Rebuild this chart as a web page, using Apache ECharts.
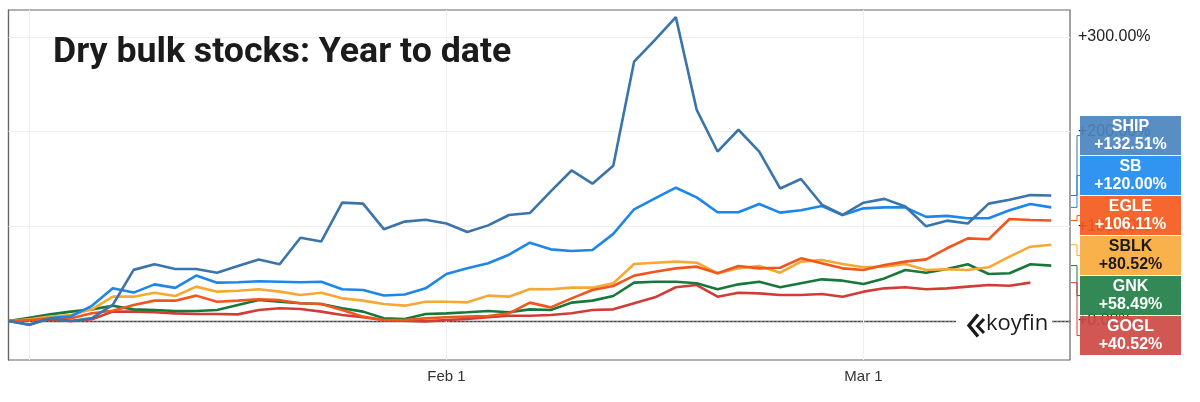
<!DOCTYPE html>
<html><head><meta charset="utf-8">
<script src="https://cdn.jsdelivr.net/npm/echarts@6/dist/echarts.min.js"></script>
<style>html,body{margin:0;padding:0;background:#fff}#c{width:1200px;height:402px}</style>
</head><body><div id="c"></div>
<script>
// trading-day index 0..50 (Dec 31 .. Mar 12)
const tickIdx = [1, 21, 41];
const tickLabels = ['', 'Feb 1', 'Mar 1'];
const yTicks = [0, 100, 200, 300];

const names = ['SHIP', 'SB', 'EGLE', 'SBLK', 'GNK', 'GOGL'];
const ship = [0,-4,3,0,3,17,54,60,55,55,51,58,65,60,88,84,125,124,97,105,107,103,94,101,112,114,137,159,145,164,274,297,321,223,179,202,179,140,150,123,112,125,129,121,100,106,103,124,128,133,132.51];
const sb   = [0,-4,3,5,16,34.5,30,38.7,35,48,40.5,41,42,41.5,41,41.5,33.5,32.7,27,28,34.5,49.6,55.6,61,70,82.7,75.7,74,75,92,118,129.6,140.8,130.6,114.8,114.8,123.6,114.5,117,121.5,112,119,120,120,110,111,108.5,108.5,117,123.6,120];
const egle = [0,1,2.8,2.8,8.1,10.9,16.9,21.5,21.5,26.8,20.4,21.5,22.9,22,18.7,18,11.6,4.6,1,1,2.8,3.9,4.6,5.3,8.1,19.4,14.4,23.9,32.7,37,47.9,52.1,55.6,57.4,50.4,58.1,55.6,56.2,66.2,60.9,55.6,53.9,59.2,62.7,65.1,76.8,87.3,86.3,107.7,106.7,106.11];
const sblk = [0,1.8,4.6,6.3,12.3,25.7,25.7,29.9,26.4,36.3,31,32,33.5,31,27.5,29.9,23.9,21.5,18,16.2,20.4,20.4,19.7,26.8,25.7,33.8,33.5,35.2,35.2,39.8,60.2,61.6,62.7,61.6,50.4,55.6,58.1,51,62.7,64.4,60.2,56.7,57.4,60.2,53.9,54.6,53.9,56.7,68,78.5,80.52];
const gnk  = [0,3.5,7,9.9,12.3,16.2,12.3,11.6,10.6,10.6,11.6,16.9,22.2,20.4,18.7,18,13.4,9.9,2.8,2.1,7.4,8.1,9.2,10.6,9.2,12.3,11.6,19.4,21.5,26.4,40.5,41.5,41.5,39.8,33.5,38.7,41.5,35.6,39.8,44,42.6,39.1,45,53.9,51,54.9,59.9,49.6,50.4,59.9,58.49];
const gogl = [0,1,1,0,1.8,9.9,9.9,9.2,8.1,7.4,7.4,7,11.6,13.4,12.7,9.9,6.3,3.9,1,0.4,-0.4,1,2.1,3.9,5.6,5.6,6.3,8.1,11.6,12.3,18.7,25,35.6,38,25.7,29.9,29.2,27.5,27.5,28.5,25.7,31,34.5,35.6,33.5,34.5,36.3,38,37.3,40.52,null];

const values = [ship, sb, egle, sblk, gnk, gogl];
const lineColors = ['#3a74ab', '#1c86ea', '#f0561d', '#f7a832', '#17783a', '#d23c36'];
const boxColors  = ['#4a84bf', '#1f8bf0', '#f55a1e', '#f8aa3c', '#217f48', '#cd4a43'];
const boxText    = ['#fff', '#fff', '#fff', '#1a1a1a', '#fff', '#fff'];

const chart = echarts.init(document.getElementById('c'));
const fmtPct = v => '+' + v.toFixed(2) + '%';

const lineSeries = values.map((arr, k) => ({
  name: names[k], type: 'line', symbol: 'none', z: 10 - k,
  lineStyle: { color: lineColors[k], width: 2.6 },
  data: arr.map((v, i) => [i, v])
})).reverse();

const helper = {
  type: 'line', z: 1, symbol: 'none', silent: true, data: [[0, 0]],
  lineStyle: { opacity: 0 },
  markLine: {
    silent: true, symbol: 'none', label: { show: false }, animation: false,
    data: [
      ...yTicks.filter(v => v > 0).map(v => ({ yAxis: v, lineStyle: { color: '#efefef', width: 1, type: 'solid' } })),
      ...tickIdx.map(i => ({ xAxis: i, lineStyle: { color: '#efefef', width: 1, type: 'solid' } })),
      { yAxis: 0, lineStyle: { color: '#aaa', width: 1.2, type: [1.2, 2.8] } }
    ]
  }
};

chart.setOption({
  animation: false,
  title: {
    text: 'Dry bulk stocks: Year to date', left: 48, top: 30,
    textStyle: { fontFamily: 'Roboto', fontWeight: 'bold', fontSize: 35.7, color: '#1b1b1b' }
  },
  grid: { left: 8.5, right: 130, top: 10, bottom: 42, show: true, borderColor: '#666', borderWidth: 1.2, backgroundColor: 'transparent' },
  xAxis: {
    type: 'value', min: 0, max: 50.9,
    axisLine: { show: true, lineStyle: { color: '#444', width: 1.4 } },
    axisTick: { show: true, customValues: tickIdx, length: 4, lineStyle: { color: '#444' } },
    axisLabel: { customValues: tickIdx, formatter: v => tickLabels[tickIdx.indexOf(v)] || '', fontSize: 15, color: '#333', fontFamily: 'Liberation Sans', margin: 9 },
    splitLine: { show: false }
  },
  yAxis: {
    type: 'value', position: 'right', min: -41.2, max: 328.5,
    axisLine: { show: true, lineStyle: { color: '#666', width: 1.2 } },
    axisTick: { show: true, customValues: yTicks, length: 3, lineStyle: { color: '#333' } },
    axisLabel: { customValues: yTicks, formatter: v => fmtPct(v), fontSize: 16, color: '#222', fontFamily: 'Liberation Sans', margin: 8 },
    splitLine: { show: false }
  },
  series: [helper, ...lineSeries]
});

// end-label boxes stacked around the mean of line end positions
const ends = values.map((arr, k) => {
  let i = arr.length - 1; while (arr[i] == null) i--;
  const p = chart.convertToPixel({ gridIndex: 0 }, [i, arr[i]]);
  return { k, v: arr[i], y: p[1] };
}).sort((a, b) => a.y - b.y);
const rightX = chart.convertToPixel({ gridIndex: 0 }, [50.9, 0])[0];
const pitch = 40, boxH = 39, boxW = 101, boxX = rightX + 10, elbowX = rightX + 7;
const meanY = ends.reduce((s, e) => s + e.y, 0) / ends.length;
const top0 = meanY - pitch * ends.length / 2;
const els = [];
ends.forEach((e, j) => {
  const by = top0 + j * pitch;
  const cy = by + boxH / 2;
  els.push({ type: 'polyline', z: 90, shape: { points: [[rightX + 1, e.y], [elbowX, e.y], [elbowX, cy], [boxX, cy]] }, style: { stroke: lineColors[e.k], lineWidth: 1, fill: null } });
  els.push({ type: 'rect', z: 100, shape: { x: boxX, y: by, width: boxW, height: boxH }, style: { fill: boxColors[e.k], opacity: 0.92 } });
  els.push({ type: 'text', z: 101, style: { x: boxX + boxW / 2, y: cy + 0.5, text: names[e.k] + '\n' + fmtPct(e.v), fill: boxText[e.k], font: 'bold 16px "Liberation Sans"', align: 'center', verticalAlign: 'middle', lineHeight: 18 } });
});
// koyfin watermark
els.push({ type: 'rect', z: 50, shape: { x: 956, y: 309, width: 96, height: 32 }, style: { fill: '#fff' } });
els.push({ type: 'polyline', z: 51, shape: { points: [[978, 314.5], [969, 325.5], [978, 336.5]] }, style: { stroke: '#1a1a1a', lineWidth: 3.4, fill: null } });
els.push({ type: 'polyline', z: 51, shape: { points: [[984, 319], [977.5, 326], [984, 333]] }, style: { stroke: '#1a1a1a', lineWidth: 3, fill: null } });
els.push({ type: 'text', z: 51, style: { x: 986, y: 324, text: 'koyfin', fill: '#1a1a1a', font: '500 22px "Open Sans"', align: 'left', verticalAlign: 'middle' } });
chart.setOption({ graphic: { elements: els } });
</script></body></html>
